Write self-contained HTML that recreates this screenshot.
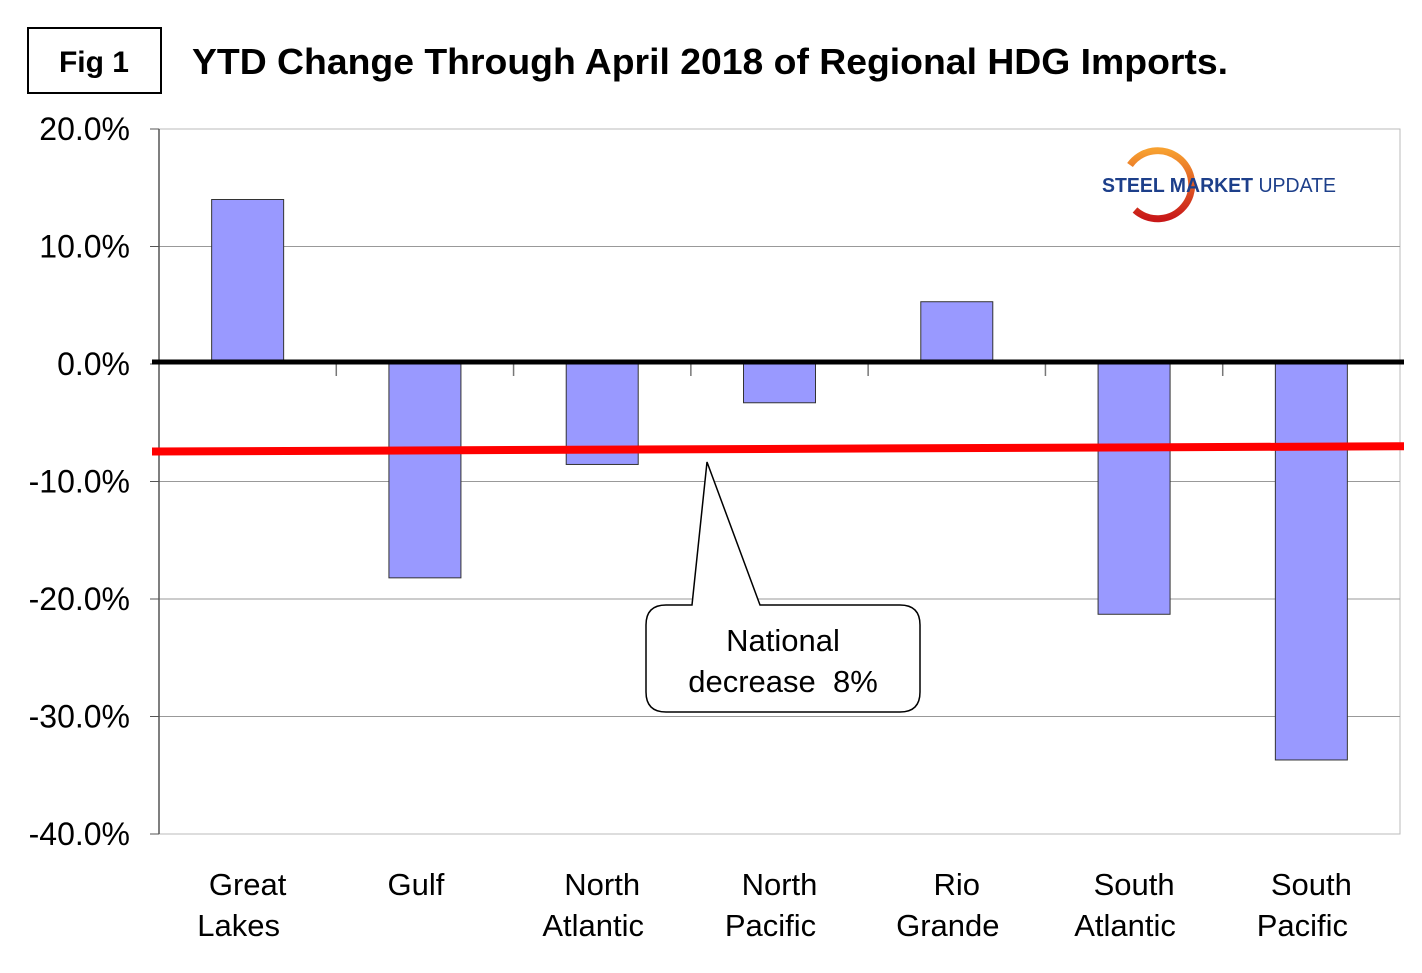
<!DOCTYPE html>
<html><head><meta charset="utf-8">
<style>
body{margin:0;background:#fff;}
svg{display:block;font-family:"Liberation Sans",Arial,sans-serif;}
</style></head>
<body>
<svg id="chart" width="1422" height="973" viewBox="0 0 1422 973">
  <defs><linearGradient id="arcg" x1="0" y1="0" x2="0" y2="1"><stop offset="0" stop-color="#f7a030"/><stop offset="1" stop-color="#c81818"/></linearGradient></defs>
  <rect x="28" y="28" width="133" height="65" fill="#fff" stroke="#000" stroke-width="2"/>
  <text x="94" y="72" font-size="30" font-weight="bold" text-anchor="middle">Fig 1</text>
  <text x="192" y="74" font-size="36" font-weight="bold" textLength="1036" lengthAdjust="spacingAndGlyphs">YTD Change Through April 2018 of Regional HDG Imports.</text>
  <rect x="159" y="129" width="1241" height="705" fill="none" stroke="#bbb" stroke-width="1"/>
  <g id="grid"></g>
  <g id="bars"></g>
  <g id="axes"></g>
  <g>
    <path d="M1130,165 A34,34 0 1 1 1135,210" fill="none" stroke="url(#arcg)" stroke-width="7"/>
    <rect x="1160" y="172" width="20" height="24" fill="#fff"/>
    <text x="1102" y="192" font-size="20" font-weight="bold" fill="#1d3f8a" textLength="234" lengthAdjust="spacingAndGlyphs">STEEL MARKET <tspan font-weight="normal">UPDATE</tspan></text>
  </g>
  <g>
    <path d="M692,605 L707,462 L760,605 L900,605 Q920,605 920,625 L920,692 Q920,712 900,712 L666,712 Q646,712 646,692 L646,625 Q646,605 666,605 Z" fill="#fff" stroke="#000" stroke-width="1.5"/>
    <text x="783" y="651" font-size="31" text-anchor="middle">National</text>
    <text x="783" y="692" font-size="31" text-anchor="middle" xml:space="preserve">decrease  8%</text>
  </g>
</svg>
<script>
const categories=[["Great","Lakes"],["Gulf"],["North","Atlantic"],["North","Pacific"],["Rio","Grande"],["South","Atlantic"],["South","Pacific"]];
const values=[14.0,-18.2,-8.55,-3.3,5.3,-21.3,-33.7];
const yTicks=[20,10,0,-10,-20,-30,-40];
const yTickLabels=["20.0%","10.0%","0.0%","-10.0%","-20.0%","-30.0%","-40.0%"];
const nationalStart=-7.45, nationalEnd=-7.0;
const NS="http://www.w3.org/2000/svg";
const X0=159,X1=1400,Y20=129,Y40=834;
const y=v=>Y20+(20-v)*(Y40-Y20)/60;
const bw=(X1-X0)/categories.length;
const xc=i=>X0+bw*(i+0.5);
function mk(tag,attrs,parent,txt){const e=document.createElementNS(NS,tag);for(const k in attrs)e.setAttribute(k,attrs[k]);if(txt!==undefined)e.textContent=txt;parent.appendChild(e);return e;}
const grid=document.getElementById('grid'),bars=document.getElementById('bars'),axes=document.getElementById('axes');
yTicks.forEach((t,i)=>{
  if(t!==0&&t!==20&&t!==-40){const l=mk('line',{x1:X0,x2:X1,y1:y(t),y2:y(t),stroke:'#999','stroke-width':1},grid);
  
  }
  const tk=mk('line',{x1:150,x2:X0,y1:y(t),y2:y(t),stroke:'#555','stroke-width':1},axes);
  
  
  const tx=mk('text',{x:130,y:y(t)+11,'font-size':32,'text-anchor':'end'},axes,yTickLabels[i]);
  
  
});
mk('line',{x1:X0,x2:X0,y1:Y20,y2:Y40,stroke:'#555','stroke-width':1.5},axes);
values.forEach((v,i)=>{
  const top=Math.min(y(v),y(0)),h=Math.abs(y(v)-y(0));
  const r=mk('rect',{x:xc(i)-36,y:top,width:72,height:h,fill:'#9999ff',stroke:'#333','stroke-width':1},bars);
  
  
  const shift=categories[i].length>1?0:-9;
  categories[i].forEach((ln,j)=>{
    const t=mk('text',{x:xc(i)+(j===1?-9:0)+shift,y:895+j*41,'font-size':31,'text-anchor':'middle'},axes,ln);
    
    
  });
  if(i>0){mk('line',{x1:X0+bw*i,x2:X0+bw*i,y1:y(0),y2:y(0)+12,stroke:'#777','stroke-width':1.5},axes);}
});
const z=mk('line',{x1:152,x2:1404,y1:y(0)-2,y2:y(0)-2,stroke:'#000','stroke-width':5},axes);


const red=mk('line',{x1:152,x2:1404,y1:y(nationalStart),y2:y(nationalEnd),stroke:'#ff0000','stroke-width':8},axes);


</script>
</body></html>
